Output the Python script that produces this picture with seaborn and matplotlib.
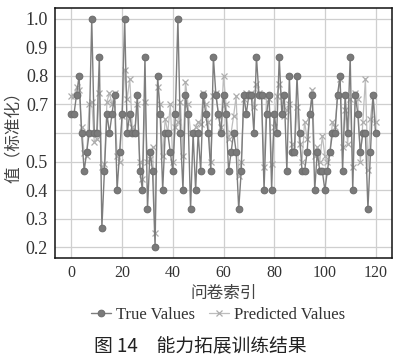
import numpy as np
import pandas as pd
import matplotlib
matplotlib.use("Agg")
import matplotlib.pyplot as plt
import seaborn as sns

# ---- data ----
true_values = [
    0.667, 0.667, 0.733, 0.8, 0.6, 0.467, 0.533, 0.6, 1.0, 0.6,
    0.6, 0.867, 0.267, 0.467, 0.667, 0.6, 0.667, 0.733, 0.4, 0.533,
    0.667, 1.0, 0.6, 0.667, 0.6, 0.6, 0.733, 0.467, 0.4, 0.867,
    0.333, 0.533, 0.467, 0.2, 0.8, 0.667, 0.4, 0.6, 0.6, 0.533,
    0.467, 0.667, 1.0, 0.6, 0.4, 0.733, 0.667, 0.333, 0.6, 0.4,
    0.6, 0.467, 0.733, 0.667, 0.6, 0.467, 0.867, 0.733, 0.667, 0.6,
    0.733, 0.667, 0.467, 0.533, 0.6, 0.533, 0.333, 0.467, 0.733, 0.667,
    0.733, 0.733, 0.6, 0.867, 0.733, 0.733, 0.4, 0.667, 0.733, 0.4,
    0.667, 0.6, 0.867, 0.667, 0.733, 0.467, 0.8, 0.533, 0.533, 0.8,
    0.6, 0.467, 0.467, 0.533, 0.667, 0.733, 0.4, 0.533, 0.467, 0.467,
    0.4, 0.467, 0.533, 0.6, 0.6, 0.733, 0.8, 0.467, 0.733, 0.6,
    0.867, 0.4, 0.733, 0.667, 0.533, 0.6, 0.6, 0.333, 0.533, 0.733,
    0.6,
]
predicted_values = [
    0.73, 0.73, 0.76, 0.75, 0.62, 0.53, 0.52, 0.70, 0.71, 0.57,
    0.58, 0.74, 0.48, 0.49, 0.71, 0.74, 0.70, 0.74, 0.52, 0.50,
    0.66, 0.82, 0.72, 0.79, 0.62, 0.60, 0.70, 0.50, 0.44, 0.71,
    0.50, 0.51, 0.55, 0.25, 0.76, 0.70, 0.52, 0.65, 0.60, 0.70,
    0.50, 0.62, 0.64, 0.71, 0.52, 0.78, 0.70, 0.60, 0.60, 0.62,
    0.64, 0.63, 0.74, 0.70, 0.64, 0.50, 0.73, 0.74, 0.66, 0.62,
    0.80, 0.70, 0.58, 0.60, 0.66, 0.73, 0.45, 0.50, 0.72, 0.74,
    0.73, 0.74, 0.69, 0.77, 0.74, 0.73, 0.48, 0.73, 0.72, 0.49,
    0.62, 0.73, 0.77, 0.73, 0.66, 0.68, 0.70, 0.56, 0.53, 0.69,
    0.56, 0.50, 0.64, 0.58, 0.66, 0.75, 0.52, 0.55, 0.50, 0.59,
    0.52, 0.50, 0.53, 0.64, 0.62, 0.73, 0.79, 0.55, 0.68, 0.56,
    0.72, 0.48, 0.74, 0.72, 0.50, 0.64, 0.79, 0.47, 0.65, 0.73,
    0.64,
]
x_ticks = [0, 20, 40, 60, 80, 100, 120]
y_ticks = [0.2, 0.3, 0.4, 0.5, 0.6, 0.7, 0.8, 0.9, 1.0]
y_tick_labels = ["0.2", "0.3", "0.4", "0.5", "", "0.7", "0.8", "0.9", "1.0"]
series_names = ["True Values", "Predicted Values"]
x_label = "问卷索引"
y_label = "值（标准化）"
caption = "图 14\u3000能力拓展训练结果"

index = np.arange(len(true_values))
df = pd.DataFrame({"idx": index, "true": true_values, "pred": predicted_values})

sns.set_theme(style="white")
plt.rcParams["font.family"] = ["Liberation Serif", "Noto Sans CJK SC", "DejaVu Sans"]
cjk = ["Noto Sans CJK SC", "DejaVu Sans"]

fig = plt.figure(figsize=(4.0, 3.58), dpi=100)
fig.patch.set_facecolor("white")
ax = fig.add_axes([0.1375, 0.279, 0.8425, 0.699])
ax.set_facecolor("white")

sns.lineplot(data=df, x="idx", y="true", ax=ax, color="#7d7d7d",
             marker="o", markersize=4.8, markeredgecolor="#6e6e6e",
             markerfacecolor="#7a7a7a", linewidth=1.0,
             label=series_names[0], zorder=3)
sns.lineplot(data=df, x="idx", y="pred", ax=ax, color="#bdbdbd",
             marker="x", markersize=4.0, markeredgecolor="#adadad",
             markeredgewidth=0.9, linewidth=0.9,
             label=series_names[1], zorder=2)

ax.set_xticks(x_ticks)
ax.set_yticks(y_ticks)
ax.set_yticklabels(y_tick_labels)
ax.set_xlim(-6.5, 126.5)
ax.set_ylim(0.162, 1.038)
ax.grid(True, color="#cfcfcf", linewidth=0.9)
ax.set_axisbelow(True)
for s in ax.spines.values():
    s.set_color("#111111")
    s.set_linewidth(1.1)
ax.tick_params(axis="both", which="major", direction="out", length=3,
               width=0.8, color="#222222", labelcolor="#333333", pad=2)
ax.tick_params(axis="y", labelsize=13)
ax.tick_params(axis="x", labelsize=11.5)

ax.set_xlabel(x_label, family=cjk, fontsize=12, color="#444444", labelpad=3)
ax.set_ylabel(y_label, family=cjk, fontsize=12, color="#444444", labelpad=3)

ax.get_legend().remove()
handles, labels = ax.get_legend_handles_labels()
fig.legend(handles, labels, loc="center", bbox_to_anchor=(0.545, 0.12),
           ncol=2, frameon=False, fontsize=12, handlelength=1.2,
           handletextpad=0.3, columnspacing=0.8, labelcolor="#333333")

fig.text(0.5, 0.031, caption, ha="center", va="center", family=cjk,
         fontsize=13.5, color="#222222")

fig.savefig("out.png", dpi=100, facecolor="white")
